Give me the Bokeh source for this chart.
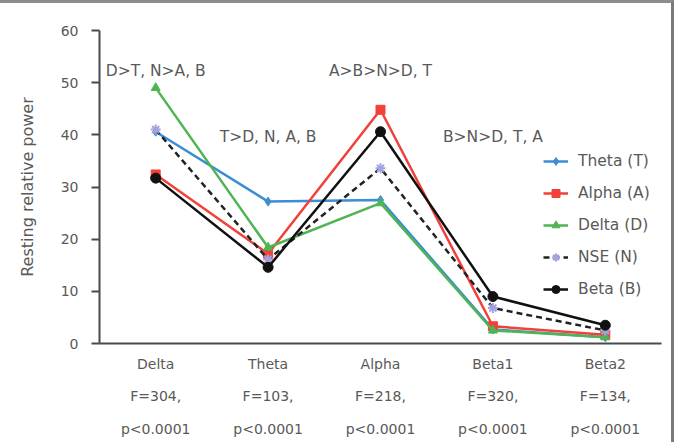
from bokeh.plotting import figure
from bokeh.models import FixedTicker, Legend, LegendItem, ColumnDataSource
from bokeh.core.properties import value
from bokeh.embed import file_html
from bokeh.resources import INLINE

categories = ["Delta", "Theta", "Alpha", "Beta1", "Beta2"]
f_stats = ["F=304,", "F=103,", "F=218,", "F=320,", "F=134,"]
p_vals = ["p<0.0001"] * 5

theta_T = [40.6, 27.2, 27.5, 2.7, 1.2]
alpha_A = [32.4, 17.2, 44.8, 3.3, 1.7]
delta_D = [49.0, 18.4, 26.9, 2.5, 1.2]
nse_N = [41.0, 16.1, 33.6, 6.8, 2.5]
beta_B = [31.7, 14.6, 40.6, 9.0, 3.5]

annot_text = ["D>T, N>A, B", "T>D, N, A, B", "A>B>N>D, T", "B>N>D, T, A"]
annot_cat = [0, 1, 2, 3]
annot_y = [52.2, 39.6, 52.2, 39.6]

y_ticks = [0, 10, 20, 30, 40, 50, 60]

FONT = "DejaVu Sans"
TXT = "#595959"
AX = "#4a4a4a"

xs = list(range(len(categories)))

p = figure(width=674, height=442, output_backend="svg", toolbar_location=None,
           x_range=(-0.5, len(categories) - 0.5), y_range=(0, 60),
           min_border_left=99, min_border_right=13, min_border_top=27, min_border_bottom=102)
p.styles = {"border-top": "3px solid #8c8c8c", "border-right": "3px solid #7a7a7a"}
p.outline_line_color = None
p.xgrid.visible = False
p.ygrid.visible = False
p.background_fill_color = "white"
p.border_fill_color = "white"

series = [
    ("Theta (T)", theta_T, "#3b8ed3", "solid", "diamond", 9, "#3b8ed3"),
    ("Alpha (A)", alpha_A, "#f2403a", "solid", "square", 9, "#f2403a"),
    ("Delta (D)", delta_D, "#4fb453", "solid", "triangle", 9, "#4fb453"),
    ("NSE (N)", nse_N, "#222222", "6 4", "asterisk", 10, "#a3a3e0"),
    ("Beta (B)", beta_B, "#111111", "solid", "circle", 10, "#111111"),
]

items = []
for name, vals, col, dash, mk, sz, mcol in series:
    src = ColumnDataSource(dict(x=xs, y=vals))
    r1 = p.line("x", "y", source=src, line_color=col, line_width=2.5, line_dash=dash)
    r2 = p.scatter("x", "y", source=src, marker=mk, size=sz, fill_color=mcol,
                   line_color=mcol, line_width=2 if mk == "asterisk" else 1)
    items.append(LegendItem(label=name, renderers=[r1, r2]))

legend = Legend(items=items, location=(444, 44), orientation="vertical")
legend.background_fill_alpha = 0
legend.border_line_color = None
legend.label_text_font = FONT
legend.label_text_font_size = "15.5px"
legend.label_text_color = TXT
legend.glyph_width = 25
legend.glyph_height = 20
legend.label_height = 20
legend.spacing = 12
legend.padding = 0
legend.margin = 0
legend.label_standoff = 10
p.add_layout(legend)

asrc = ColumnDataSource(dict(x=annot_cat, y=annot_y, t=annot_text))
p.text("x", "y", text="t", source=asrc, text_align="center", text_baseline="middle",
       text_font=value(FONT), text_font_size="15.5px", text_color=TXT)

# axes
p.xaxis.ticker = FixedTicker(ticks=xs)
p.xaxis.major_label_overrides = {i: f"{categories[i]}\n{f_stats[i]}\n{p_vals[i]}" for i in xs}
p.xaxis.major_tick_line_color = None
p.xaxis.minor_tick_line_color = None
p.xaxis.major_tick_out = 0
p.xaxis.major_label_standoff = 12
p.xaxis.major_label_text_font = FONT
p.xaxis.major_label_text_font_size = "14px"
p.xaxis.major_label_text_color = TXT
p.xaxis.major_label_text_line_height = 2.06
p.xaxis.axis_line_color = AX
p.xaxis.axis_line_width = 2

p.yaxis.ticker = FixedTicker(ticks=y_ticks)
p.yaxis.minor_tick_line_color = None
p.yaxis.major_tick_out = 8
p.yaxis.major_tick_in = 0
p.yaxis.major_tick_line_color = AX
p.yaxis.major_tick_line_width = 2
p.yaxis.axis_line_color = AX
p.yaxis.axis_line_width = 2
p.yaxis.major_label_standoff = 13
p.yaxis.major_label_text_font = FONT
p.yaxis.major_label_text_font_size = "14px"
p.yaxis.major_label_text_color = TXT
p.yaxis.axis_label = "Resting relative power"
p.yaxis.axis_label_text_font = FONT
p.yaxis.axis_label_text_font_size = "16px"
p.yaxis.axis_label_text_font_style = "normal"
p.yaxis.axis_label_text_color = TXT
p.yaxis.axis_label_standoff = 21

open("out.html", "w").write(file_html(p, INLINE))
